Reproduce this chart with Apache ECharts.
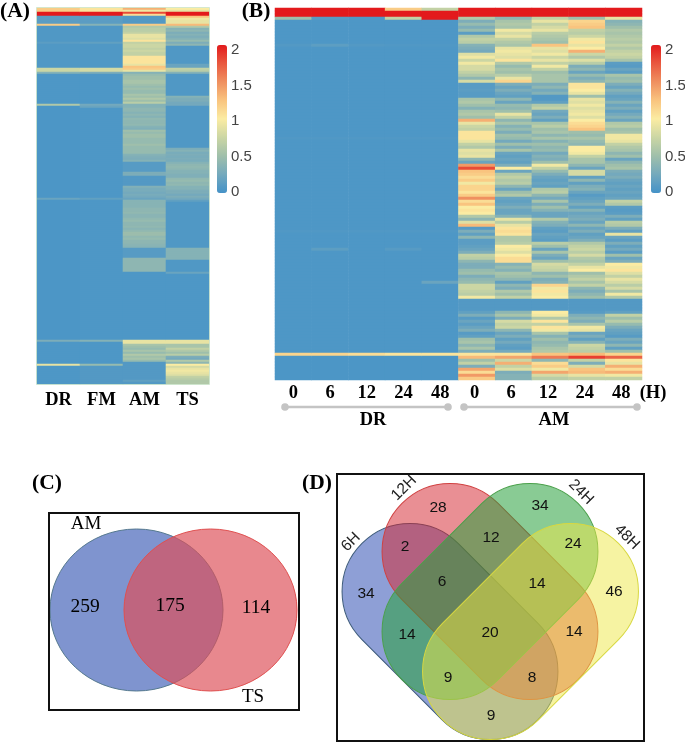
<!DOCTYPE html>
<html><head><meta charset="utf-8">
<script src="https://cdn.jsdelivr.net/npm/echarts@6/dist/echarts.min.js"></script>
<style>html,body{margin:0;padding:0;background:#fff}#c{width:685px;height:742px}</style></head>
<body><div id="c"></div>
<script>
// ---- categories and tick labels ----
const categoriesA = ['DR','FM','AM','TS'];
const categoriesB = ['0','6','12','24','48','0 ','6 ','12 ','24 ','48 '];
const groupLabelsB = ['DR','AM'];
const legendTicks = [['2',2],['1.5',1.5],['1',1],['0.5',0.5],['0',0]];

// ---- panel A: runs of [rows, value], 188 rows per column ----
const aDR = [[2,1.2],[2,2],[4,.12],[1,1.2],[8,.06],[1,.12],[12,.06],[2,.75],[1,.35],[15,.05],[1,.6],[46,.04],[1,.2],[70,.04],[1,.3],[11,.05],[1,.9],[9,.05]];
const aFM = [[2,1.05],[2,2],[4,.12],[1,.35],[8,.06],[1,.15],[12,.06],[2,.8],[1,.3],[15,.05],[1,.25],[1,.2],[45,.05],[1,.15],[70,.05],[1,.35],[11,.05],[1,.45],[9,.08]];
const aAM = [[1,1.35],[1,.95],[1,1.8],[1,1.1],[4,.08],[1,1.2],
 [1,.6],[1,.65],[1,.65],[1,.7],[1,.9],[1,.9],[1,.85],[1,1.05],
 [1,.7],[2,.75],[1,.7],[1,.75],[2,.7],[4,1.05],[1,.9],[1,1.25],[1,1.2],[1,.9],[1,.35],
 [1,.45],[2,.5],[2,.55],[1,.5],[1,.45],[1,.5],[2,.45],[1,.55],[1,.5],[1,.6],[1,.5],[1,.65],[1,.35],
 [1,.35],[2,.4],[1,.35],[1,.4],[1,.35],[1,.42],[2,.4],[1,.42],[1,.35],[1,.32],
 [1,.5],[1,.45],[2,.5],[3,.45],[1,.5],[4,.45],[1,.35],[1,.32],[1,.3],[1,.35],[5,.1],[2,.3],[5,.08],
 [1,.33],[2,.28],[1,.25],[1,.28],[1,.25],[1,.2],
 [4,.36],[2,.4],[1,.42],[2,.38],[1,.42],[1,.45],[2,.4],[1,.42],[1,.38],[1,.42],[2,.48],[1,.42],[1,.45],[2,.4],[1,.38],[1,.36],
 [5,.1],[7,.4],[34,.05],[2,.9],[1,.55],[1,.5],[1,.45],[1,.55],[1,.45],[1,.6],[1,.5],[1,.55],[1,.45],[1,.08],[8,.08],[1,.15],[1,.08]];
const aTS = [[1,1],[1,.9],[2,2],[1,1.25],[1,.95],[2,.9],[1,1.3],[1,.6],
 [1,.35],[1,.4],[1,.3],[1,.35],[1,.3],[1,.35],[1,.45],[1,.3],[1,.4],
 [9,.06],[2,.2],[1,.7],[1,.65],[1,.35],[11,.06],[1,.35],[2,.3],[2,.25],[21,.06],
 [1,.3],[1,.35],[1,.28],[1,.3],[1,.28],[1,.3],[1,.28],
 [1,.35],[1,.4],[1,.42],[1,.4],[2,.35],[2,.32],[1,.42],[1,.45],[1,.4],[1,.42],[1,.35],
 [1,.35],[2,.3],[1,.25],[1,.3],[1,.25],[1,.15],[23,.06],[6,.35],[6,.06],[1,.2],[33,.05],[2,.9],
 [2,.55],[1,.7],[1,.6],[1,.5],[1,.65],[1,.3],[1,.25],[1,.6],[1,.4],[1,1],[1,.8],[1,.9],[1,.95],[1,.9],[1,.85],[1,.7],[1,.65],[2,.6]];

// ---- panel B: 124 rows per column ----
const bDR0 = [[3,2],[1,.5],[8,.05],[1,.08],[30,.05],[1,.07],[30,.05],[1,.07],[40,.05],[1,1.15],[8,.04]];
const bDR6 = [[3,2],[1,.1],[8,.05],[1,.13],[30,.05],[1,.07],[30,.05],[1,.07],[5,.05],[1,.13],[34,.05],[1,1.15],[8,.04]];
const bDR12 = [[3,2],[1,.06],[8,.05],[1,.08],[30,.05],[1,.07],[30,.05],[1,.07],[40,.05],[1,1.1],[8,.04]];
const bDR24 = [[1,1.2],[2,2],[1,.7],[8,.05],[1,.07],[30,.05],[1,.07],[30,.05],[1,.07],[5,.05],[1,.1],[34,.05],[1,1.05],[8,.04]];
const bDR48 = [[1,.7],[3,2],[8,.05],[1,.06],[30,.05],[1,.07],[30,.05],[1,.07],[16,.05],[1,.2],[23,.05],[1,1.05],[8,.04]];
const bAM0 = [2,2,2,.6,.3,.45,.3,.45,.12,.6,
 .7,.65,.35,.3,.25,.85,.95,.75,.95,.8,
 .8,.7,.6,.4,.8,.1,.1,.12,.1,.1,
 .55,.6,.5,.35,.55,.6,.5,1.35,.9,.75,
 .7,1.05,1.05,1.05,.9,.7,.6,.9,.85,.9,
 .4,.2,1.45,1.8,1.25,1.2,1.1,1.2,.95,1.15,
 1.15,1.05,1.2,1.5,1.1,1.25,1,1.05,1,.6,
 .4,.85,1.3,.1,.3,.15,.4,.12,.12,.15,
 .2,.3,.7,.65,.4,.3,.3,.45,.5,.3,
 .4,.45,.75,.75,.7,.65,.95,.08,.08,.08,
 .08,.15,.3,.1,.2,.12,.2,.3,.1,.15,
 .5,.55,.4,.55,.3,1.05,1.3,.5,.7,.3,
 1.4,1.1,1.45,1.2];
const bAM6 = [2,2,2,.4,.55,.6,.55,.95,.8,.9,
 .7,.6,.55,.9,.95,.9,.85,1.05,.6,.45,
 .55,.5,.65,.9,1.15,.3,.2,.3,.2,.15,
 .4,.2,.45,.4,.5,.9,.7,.4,.55,.35,
 .45,.3,.5,.45,.25,.5,.3,.55,.2,.15,
 .2,.15,.3,1,.2,.6,.7,.6,.65,.4,
 .2,.5,.6,.2,.15,.2,.3,.2,.2,.35,
 .9,.65,.9,1.05,1.1,1.05,.6,.6,.65,1,
 .95,.85,1,1.1,1.1,.35,.45,.35,.55,.5,
 .4,.15,.4,.3,.6,.5,.7,.08,.08,.08,
 .08,.4,.55,.3,.8,.7,.75,.4,.2,.3,
 .15,.25,.15,.12,.25,1.05,1.4,.75,1.35,.7,
 .85,.3,.35,.35];
const bAM12 = [2,2,2,.7,.9,.7,.8,.9,.65,.6,
 .55,.5,1.25,.9,.85,.95,.75,.9,.7,.95,
 .7,.5,.55,.55,.55,.3,.4,.25,.35,.08,
 .08,.15,.6,.7,.25,.2,.3,.15,.55,.65,
 .5,.55,.4,.55,.35,.5,.4,.45,.25,.35,
 .3,.5,.95,.7,.45,.3,.2,.15,.2,.15,
 .6,.65,.4,.25,.55,.3,.5,.35,.2,.2,
 .6,.35,.3,.15,.12,.2,.15,.12,.65,.5,
 .2,.55,.3,.2,.5,.8,.75,.7,.4,.5,
 .3,.35,1.15,.95,1.05,.95,1,.08,.08,.08,
 .08,1,.95,.6,1.05,.7,1.05,.95,.55,.35,
 .5,.4,.45,.55,.6,1.25,1.6,.4,1.1,1.2,
 .95,1.4,.8,.65];
const bAM24 = [2,2,2,.5,1.15,1.2,1.25,.7,.65,.75,
 .95,1.05,.9,1,1.35,.75,.6,.85,.65,.3,
 .4,.2,.45,.3,.4,1.05,1.05,1,.9,.5,
 .9,.85,.95,.85,.9,.95,.85,1,1.1,1.15,
 1.25,.5,.45,.55,.45,.4,1,1,.95,.7,
 .55,.55,.4,.2,.8,.8,.15,.4,.15,.3,
 .35,.2,.1,.15,.2,.3,.15,.35,.2,.25,
 .3,.2,.4,.2,.3,.15,.2,.3,.6,.7,
 .75,.65,.8,.6,.55,.7,.9,1,.5,.6,
 .7,.55,.7,.4,.3,.4,.5,.08,.08,.08,
 .08,.1,.3,.4,.3,.55,.95,.9,.2,.3,
 .15,.35,.75,.7,.65,1.3,1.85,.7,.3,.8,
 1.25,1.3,.9,.7];
const bAM48 = [2,2,2,.9,.35,.4,.5,.6,.55,.6,
 .65,.6,.7,.6,.7,.75,.7,.55,.12,.1,
 .2,.12,.55,.45,.5,.3,.2,.35,.25,.15,
 .2,.35,.2,.3,.15,.25,.35,.2,.6,.65,
 .5,.55,.95,.95,.9,.7,.6,.55,.4,.5,
 .2,.4,.5,.55,.3,.25,.3,.2,.15,.2,
 .15,.2,.15,.2,.7,.6,.12,.1,.12,.3,
 .15,.65,.6,.3,.15,.9,.2,.12,.3,.15,
 .25,.12,.5,.2,.3,1,.95,1.05,.85,.7,
 .9,.8,.65,.8,.55,.95,.6,.08,.08,.08,
 .08,.15,.7,.5,.65,.45,.3,.2,.15,.1,
 .3,.2,.4,.15,.5,1.15,1.7,1.05,.9,1.35,
 1.1,1.35,.95,.7];

// ---- Venn counts and labels ----
const vennCSets = ['AM','TS'];
const vennCCounts = [259,175,114];
const vennDSets = ['6H','12H','24H','48H'];
const vennDCounts = [28,34,2,12,24,34,6,14,46,14,20,14,9,8,9];

// ---- layout (not data) ----
const vennCCountPos = [[85,607],[170,606],[256,608]];
const vennCSetPos = [[86,524],[253,697]];
const vennDCountPos = [[438,508],[540,506],[405,547],[491,538],[573,544],[366,594],[442,582],[537,584],[614,592],[407,635],[490,633],[574,632],[448,678],[532,678],[491,716]];
const vennDSetPos = [[351,542,1],[404,488,1],[581,492,-1],[627,537,-1]];
const colours = ['#4492c8','#74a9bd','#9fbfab','#cbd6a4','#fbeca3','#f9c47f','#ef9060','#e9583f','#e31a1c'];

const expand = runs => runs.flatMap(([n,v]) => Array(n).fill(v));
const columnsA = [aDR,aFM,aAM,aTS].map(expand);
const columnsB = [bDR0,bDR6,bDR12,bDR24,bDR48].map(expand).concat([bAM0,bAM6,bAM12,bAM24,bAM48]);
const cells = cols => cols.flatMap((col,x) => col.map((v,y) => [x,y,v]));
const rowIds = cols => cols[0].map((_,i) => i);
const hiddenY = (g,cols) => ({type:'category',gridIndex:g,inverse:true,data:rowIds(cols),show:false});
const catX = (g,data,size,margin) => ({type:'category',gridIndex:g,data,axisLine:{show:false},axisTick:{show:false},
  splitLine:{show:false},axisLabel:{interval:0,margin,color:'#000',fontFamily:'Liberation Serif',fontWeight:'bold',fontSize:size}});

const serif = (s,b) => (b?'bold ':'')+s+'px "Liberation Serif"';
const sans = s => s+'px "Liberation Sans"';
const text = (x,y,t,font,fill,rot) => ({type:'text',x,y,rotation:rot||0,z:10,style:{text:String(t),font,fill:fill||'#000',align:'center',verticalAlign:'middle'}});
const frame = (x,y,w,h) => ({type:'rect',z:5,shape:{x,y,width:w,height:h},style:{fill:'none',stroke:'#111',lineWidth:2}});
const ellipse = (cx,cy,fill,stroke) => ({type:'ellipse',z:3,shape:{cx,cy,rx:86.5,ry:81},style:{fill,stroke,lineWidth:1}});
const capsule = (cx,cy,rot,fill,stroke) => ({type:'rect',z:3,x:cx,y:cy,rotation:rot,
  shape:{x:-124.5,y:-68,width:249,height:136,r:68},style:{fill,stroke,lineWidth:1}});
const line = (x1,x2,y) => [{type:'line',z:3,shape:{x1,y1:y,x2,y2:y},style:{stroke:'#c4c4c4',lineWidth:2.5}},
  {type:'circle',z:3,shape:{cx:x1,cy:y,r:3.8},style:{fill:'#c4c4c4'}},{type:'circle',z:3,shape:{cx:x2,cy:y,r:3.8},style:{fill:'#c4c4c4'}}];
const Q = Math.PI/4;

const graphic = [
  text(15,11,'(A)',serif(21.5,1)), text(256,11,'(B)',serif(21.5,1)),
  text(47,483,'(C)',serif(21.5,1)), text(317,483,'(D)',serif(21.5,1)),
  {type:'rect',z:6,shape:{x:36.5,y:7.5,width:173,height:377},style:{fill:'none',stroke:'rgba(190,222,190,.65)',lineWidth:1}},
  ...[231,665].flatMap(x => legendTicks.map(([t,v]) => ({type:'text',x,y:192-71*v,z:10,
     style:{text:t,font:sans(15),fill:'#444',align:'left',verticalAlign:'middle'}}))),
  text(653,393,'(H)',serif(18.5,1)),
  ...line(285,448,407), ...line(464,637,407),
  text(373,420,groupLabelsB[0],serif(18.5,1)), text(554,420,groupLabelsB[1],serif(18.5,1)),
  ellipse(136.5,610,'rgba(72,103,186,.7)','#55798f'),
  ellipse(210.5,610,'rgba(221,80,88,.68)','#e05050'),
  frame(49,513,250,197),
  ...vennCCounts.map((v,i)=>text(vennCCountPos[i][0],vennCCountPos[i][1],v,serif(19.5))),
  ...vennCSets.map((s,i)=>text(vennCSetPos[i][0],vennCSetPos[i][1],s,serif(19))),
  capsule(450,631.5,-Q,'rgba(50,80,180,.55)','#3c5a7a'),
  capsule(490,591.5,-Q,'rgba(212,40,50,.52)','#d04040'),
  capsule(490,591.5,Q,'rgba(40,160,60,.55)','#4aa04a'),
  capsule(530.5,631.5,Q,'rgba(238,232,70,.5)','#d8d840'),
  frame(337,474,307,267),
  ...vennDCounts.map((v,i)=>text(vennDCountPos[i][0],vennDCountPos[i][1],v,sans(15.5),'#111')),
  ...vennDSets.map((s,i)=>text(vennDSetPos[i][0],vennDSetPos[i][1],s,sans(15.5),'#222',vennDSetPos[i][2]*Q)),
];

const heat = (i,cols) => ({type:'heatmap',xAxisIndex:i,yAxisIndex:i,data:cells(cols),silent:true,progressive:0,
  emphasis:{disabled:true},itemStyle:{borderWidth:0}});
const vm = (i,left) => ({type:'continuous',seriesIndex:i,min:0,max:2,left,top:45,itemWidth:10,itemHeight:148,
  calculable:false,realtime:false,hoverLink:false,inRange:{color:colours},textStyle:{color:'rgba(0,0,0,0)'},text:null,padding:0});

const chart = echarts.init(document.getElementById('c'),null,{renderer:'canvas'});
chart.setOption({
  animation:false,backgroundColor:'#fff',
  grid:[{left:37,top:8,width:172,height:376},{left:275,top:8,width:367,height:372}],
  xAxis:[catX(0,categoriesA,18.5,7),catX(1,categoriesB,18.5,4)],
  yAxis:[hiddenY(0,columnsA),hiddenY(1,columnsB)],
  visualMap:[vm(0,217),vm(1,651)],
  series:[heat(0,columnsA),heat(1,columnsB)],
  graphic:{elements:graphic}
});
</script></body></html>
